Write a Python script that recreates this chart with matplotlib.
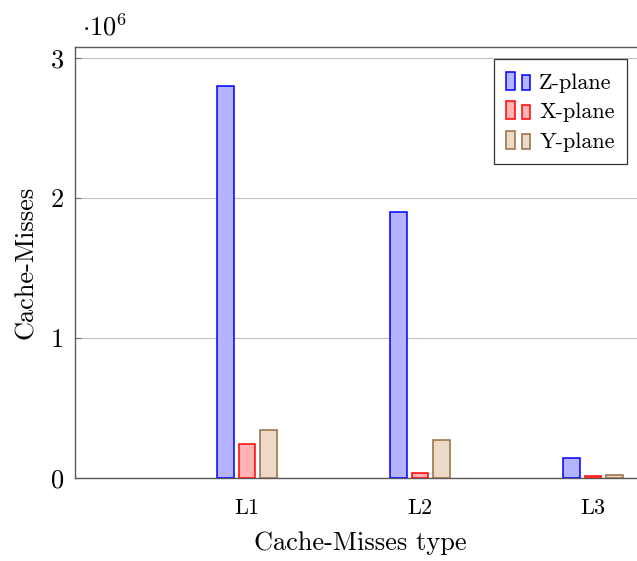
import matplotlib
matplotlib.use("Agg")
import matplotlib.pyplot as plt
from matplotlib.patches import Rectangle
from matplotlib.legend_handler import HandlerBase
import numpy as np

plt.rcParams["font.family"] = "serif"
plt.rcParams["font.serif"] = ["cmr10", "DejaVu Serif"]
plt.rcParams["mathtext.fontset"] = "cm"
plt.rcParams["axes.formatter.use_mathtext"] = True

categories = ["L1", "L2", "L3"]
series_names = ["Z-plane", "X-plane", "Y-plane"]
z_plane = [2.8e6, 1.9e6, 0.14e6]
x_plane = [0.24e6, 0.035e6, 0.012e6]
y_plane = [0.34e6, 0.27e6, 0.025e6]
y_ticks = [0, 1, 2, 3]

fills = [(0.7, 0.7, 1.0), (1.0, 0.7, 0.7), (0.925, 0.85, 0.775)]
edges = [(0.0, 0.0, 1.0), (1.0, 0.0, 0.0), (0.58, 0.42, 0.26)]

W, H = 637, 561
fig = plt.figure(figsize=(W / 100, H / 100), dpi=100)
left, right, top, bottom = 75, 645, 47, 478
ax = fig.add_axes([left / W, (H - bottom) / H, (right - left) / W, (bottom - top) / H])

x = np.arange(len(categories))
width = 0.095
offset = 0.124
handles = []
for i, (vals, name) in enumerate(zip([z_plane, x_plane, y_plane], series_names)):
    b = ax.bar(x + (i - 1) * offset, vals, width, color=fills[i], edgecolor=edges[i],
               linewidth=1.1, label=name, zorder=3)
    handles.append(b)

ax.set_xlim(-0.994, 2.30)
ax.set_ylim(0, 3.079e6)
ax.set_yticks([v * 1e6 for v in y_ticks])
ax.set_yticklabels([str(v) for v in y_ticks])
ax.set_xticks(x)
ax.set_xticklabels(categories, fontsize=16)
ax.tick_params(axis="y", labelsize=19, direction="in", length=4, color="0.45", pad=8)
ax.tick_params(axis="x", length=0, pad=15)
ax.yaxis.grid(True, color="0.75", linewidth=0.8, zorder=0)
ax.set_axisbelow(True)
for s in ax.spines.values():
    s.set_color("0.35")
    s.set_linewidth(1.0)

ax.set_xlabel("Cache-Misses type", fontsize=19, labelpad=9)
ax.set_ylabel("Cache-Misses", fontsize=19, labelpad=9)
fig.text(82 / W, (H - 27) / H, r"$\cdot 10^{6}$", fontsize=19, va="center", ha="left")


class TwoBarHandler(HandlerBase):
    def create_artists(self, legend, orig_handle, xdescent, ydescent, width, height, fontsize, trans):
        patch = orig_handle.patches[0]
        fc = patch.get_facecolor()
        ec = patch.get_edgecolor()
        w = width * 0.35
        y0 = -ydescent + 0.08 * height
        r1 = Rectangle((-xdescent, y0), w, height * 0.9,
                       facecolor=fc, edgecolor=ec, linewidth=1.1, transform=trans)
        r2 = Rectangle((-xdescent + width * 0.63, y0), w, height * 0.72,
                       facecolor=fc, edgecolor=ec, linewidth=1.1, transform=trans)
        return [r1, r2]


leg = ax.legend(handles=handles, labels=series_names, handler_map={type(handles[0]): TwoBarHandler()},
                loc="upper right", bbox_to_anchor=((627 - left) / (right - left), 1 - (59 - top) / (bottom - top)),
                fontsize=16, fancybox=False, framealpha=1, edgecolor="0.2",
                handlelength=1.1, handleheight=1.0, handletextpad=0.38, borderpad=0.55,
                labelspacing=0.36, borderaxespad=0)
leg.get_frame().set_linewidth(0.9)

fig.savefig("out.png", dpi=100)
